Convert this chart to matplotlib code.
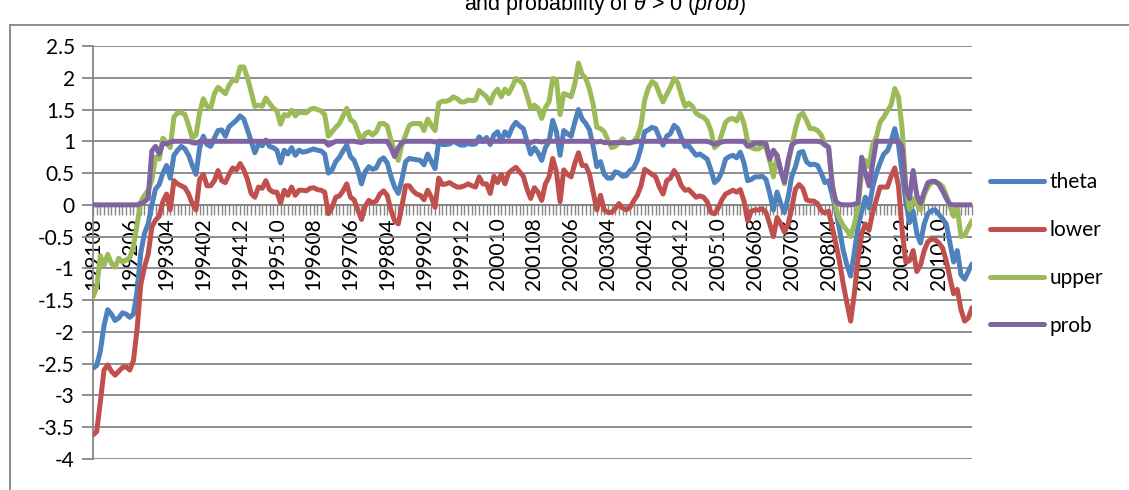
import matplotlib
matplotlib.use("Agg")
import matplotlib.pyplot as plt
from matplotlib.lines import Line2D
import pandas as pd

# Monthly categories, 1991-08 .. 2011-07
months = pd.period_range("1991-08", periods=240, freq="M").strftime("%Y%m").tolist()

theta = [
    -2.57, -2.53, -2.3, -1.9, -1.65, -1.72, -1.82, -1.78, -1.7, -1.72,
    -1.77, -1.72, -1.35, -0.75, -0.45, -0.3, 0.0, 0.25, 0.32, 0.5,
    0.62, 0.42, 0.78, 0.86, 0.92, 0.88, 0.78, 0.62, 0.48, 0.9,
    1.08, 0.95, 0.92, 1.05, 1.17, 1.18, 1.08, 1.23, 1.28, 1.33,
    1.4, 1.35, 1.18, 1.0, 0.82, 0.96, 0.93, 1.02, 0.92, 0.9,
    0.86, 0.66, 0.86, 0.8, 0.9, 0.78, 0.86, 0.83, 0.84, 0.86,
    0.88, 0.86, 0.85, 0.8, 0.5, 0.55, 0.68, 0.75, 0.85, 0.94,
    0.76, 0.7, 0.55, 0.33, 0.52, 0.6, 0.56, 0.58, 0.7, 0.74,
    0.66, 0.45, 0.28, 0.18, 0.4, 0.68, 0.73, 0.72, 0.71, 0.7,
    0.63, 0.8, 0.68, 0.57, 1.0, 0.95, 0.95, 0.96, 1.0, 0.97,
    0.94, 0.94, 0.97, 0.95, 0.96, 1.07, 1.0, 1.06, 0.95, 1.1,
    1.15, 1.0, 1.15, 1.08, 1.22, 1.3, 1.24, 1.2, 1.0, 0.8,
    0.9, 0.82, 0.7, 0.9, 1.0, 1.33, 1.15, 0.78, 1.17, 1.12,
    1.08, 1.3, 1.5, 1.35, 1.28, 1.18, 0.92, 0.6, 0.68, 0.48,
    0.42, 0.42, 0.52, 0.5, 0.45, 0.46, 0.54, 0.58, 0.7, 0.9,
    1.15, 1.18, 1.22, 1.2, 1.06, 0.94, 1.08, 1.12, 1.25, 1.2,
    1.05, 0.92, 0.93, 0.85, 0.78, 0.8, 0.76, 0.72, 0.55, 0.35,
    0.4, 0.52, 0.72, 0.76, 0.78, 0.74, 0.83, 0.66, 0.38, 0.4,
    0.44, 0.44, 0.45, 0.4, 0.18, -0.08, 0.2, 0.02, -0.12, 0.12,
    0.45, 0.6, 0.82, 0.84, 0.68, 0.63, 0.64, 0.62, 0.5, 0.35,
    0.38, 0.15, -0.08, -0.4, -0.72, -0.95, -1.12, -0.75, -0.35, -0.1,
    0.12, -0.05, 0.28, 0.5, 0.66, 0.8, 0.85, 1.0, 1.2, 0.95,
    0.5, 0.05, -0.28, -0.1, -0.45, -0.6, -0.3, -0.14, -0.09, -0.08,
    -0.15, -0.22, -0.3, -0.6, -0.9, -0.72, -1.1, -1.17, -1.05, -0.93,
]

lower = [
    -3.62, -3.57, -3.1, -2.6, -2.52, -2.62, -2.68, -2.62, -2.56, -2.55,
    -2.6, -2.45, -1.95, -1.25, -0.98, -0.78, -0.35, -0.24, -0.18, 0.05,
    0.17, -0.08, 0.38, 0.33, 0.3, 0.27, 0.17, 0.02, -0.08, 0.4,
    0.48, 0.3, 0.3, 0.38, 0.54, 0.38, 0.35, 0.48, 0.58, 0.55,
    0.65, 0.55, 0.4, 0.18, 0.12, 0.28, 0.26, 0.38, 0.24, 0.2,
    0.2, 0.03, 0.23, 0.15, 0.28, 0.15, 0.23, 0.23, 0.22, 0.26,
    0.27, 0.24, 0.23, 0.2, -0.14, -0.04, 0.12, 0.14, 0.22, 0.33,
    0.12, 0.08, -0.08, -0.23, -0.02, 0.07, 0.03, 0.06, 0.17, 0.22,
    0.15, -0.08, -0.25, -0.3, -0.02, 0.3, 0.3, 0.22, 0.17, 0.15,
    0.08, 0.23, 0.12, -0.04, 0.42, 0.32, 0.33, 0.35, 0.31, 0.28,
    0.28, 0.3, 0.33, 0.3, 0.28, 0.44, 0.33, 0.33, 0.18, 0.45,
    0.35, 0.48, 0.33, 0.5, 0.55, 0.59, 0.52, 0.45, 0.25, 0.1,
    0.27, 0.2, 0.07, 0.33, 0.44, 0.73, 0.52, 0.05, 0.55, 0.48,
    0.44, 0.65, 0.82, 0.62, 0.62, 0.48, 0.2, -0.08, 0.15, -0.08,
    -0.12, -0.12, -0.06, 0.02, -0.05, -0.08, -0.04, 0.06, 0.15, 0.3,
    0.56, 0.52, 0.48, 0.44, 0.28, 0.17, 0.38, 0.42, 0.54, 0.45,
    0.3, 0.23, 0.24, 0.18, 0.12, 0.14, 0.12, 0.05, -0.12, -0.14,
    -0.05, 0.08, 0.17, 0.2, 0.23, 0.2, 0.24, 0.06, -0.25, -0.1,
    -0.08, -0.08, -0.06, -0.12, -0.3, -0.5, -0.2, -0.3, -0.43, -0.3,
    -0.05, 0.25, 0.32, 0.26, 0.08, 0.06, 0.06, 0.02, -0.09, -0.13,
    -0.1, -0.35, -0.62, -0.9, -1.25, -1.55, -1.83, -1.4, -0.85, -0.46,
    -0.3, -0.4, -0.12, 0.08, 0.28, 0.28, 0.28, 0.45, 0.58, 0.3,
    -0.4, -0.9, -0.88, -0.72, -1.05, -0.95, -0.72, -0.58, -0.54, -0.55,
    -0.6, -0.68, -0.88, -1.15, -1.4, -1.33, -1.65, -1.83, -1.78, -1.62,
]

upper = [
    -1.45, -1.3, -0.8, -0.95, -0.78, -0.92, -0.98, -0.84, -0.9, -0.87,
    -0.83, -0.65, -0.3, 0.05, 0.15, 0.23, 0.38, 0.75, 0.72, 1.05,
    0.98, 0.9, 1.38, 1.45, 1.45, 1.42, 1.25, 1.05, 1.1, 1.45,
    1.67, 1.55, 1.52, 1.75, 1.85, 1.8, 1.75, 1.88, 1.97, 1.95,
    2.17, 2.17, 2.0, 1.78, 1.55, 1.57, 1.55, 1.68, 1.6, 1.52,
    1.48, 1.27, 1.42, 1.4, 1.49, 1.4, 1.46, 1.45, 1.45, 1.5,
    1.52, 1.5, 1.48, 1.42, 1.08, 1.15, 1.22, 1.28, 1.4, 1.52,
    1.34, 1.3, 1.15, 1.0, 1.12, 1.15, 1.1, 1.15, 1.28, 1.28,
    1.24, 1.02, 0.85, 0.7, 0.95, 1.1, 1.25, 1.28, 1.28, 1.28,
    1.17, 1.35, 1.25, 1.17, 1.6, 1.63, 1.63, 1.65, 1.7, 1.67,
    1.62, 1.62, 1.65, 1.64, 1.65, 1.8, 1.75, 1.7, 1.6, 1.75,
    1.82, 1.7, 1.82, 1.75, 1.86, 1.99, 1.95, 1.9, 1.72, 1.52,
    1.57, 1.52, 1.36, 1.53, 1.62, 1.99, 1.97, 1.42, 1.75, 1.73,
    1.7, 1.9, 2.23, 2.05, 1.99, 1.82, 1.58, 1.22, 1.2, 1.15,
    1.02, 0.9, 0.92, 0.98, 1.04, 0.97, 0.97, 1.0, 1.07, 1.25,
    1.65, 1.84, 1.94, 1.9, 1.75, 1.62, 1.74, 1.85, 1.99, 1.92,
    1.72, 1.55, 1.6, 1.55, 1.44, 1.4, 1.38, 1.32, 1.17, 0.9,
    0.95, 1.12, 1.3, 1.35, 1.36, 1.32, 1.44, 1.28, 1.0, 0.9,
    0.88, 0.88, 0.93, 0.9, 0.7, 0.44, 0.78, 0.54, 0.33, 0.65,
    0.92, 1.2, 1.4, 1.44, 1.33, 1.2, 1.2, 1.17, 1.1, 0.96,
    0.9, 0.35, -0.05, -0.22, -0.33, -0.4, -0.5, -0.3, -0.04, 0.5,
    0.7, 0.6, 0.95, 1.07, 1.3, 1.38, 1.48, 1.57, 1.83, 1.7,
    1.2, 0.3, -0.07, 0.1, 0.0, -0.08, 0.16, 0.28, 0.35, 0.36,
    0.34, 0.29, 0.15, -0.02, -0.18, -0.05, -0.5, -0.48, -0.36, -0.25,
]

prob = [
    0, 0, 0, 0, 0, 0, 0, 0, 0, 0,
    0, 0, 0, 0.02, 0.05, 0.1, 0.85, 0.92, 0.8, 0.97,
    0.96, 0.99, 1, 1, 1, 1, 1, 0.98, 0.97, 1,
    1, 1, 1, 1, 1, 1, 1, 1, 1, 1,
    1, 1, 1, 1, 1, 1, 1, 1, 1, 1,
    1, 1, 1, 1, 1, 1, 1, 1, 1, 1,
    1, 1, 1, 1, 0.94, 0.97, 1, 1, 1, 1,
    1, 1, 0.99, 0.98, 1, 1, 1, 1, 1, 1,
    1, 0.9, 0.76, 0.9, 0.98, 1, 1, 1, 1, 1,
    1, 1, 1, 0.99, 1, 1, 1, 1, 1, 1,
    1, 1, 1, 1, 1, 1, 1, 1, 1, 1,
    1, 1, 1, 1, 1, 1, 1, 1, 0.99, 0.98,
    1, 1, 0.99, 1, 1, 1, 1, 0.99, 1, 1,
    1, 1, 1, 1, 1, 1, 1, 0.99, 1, 0.98,
    0.98, 0.97, 0.98, 0.98, 0.98, 0.98, 0.98, 0.99, 1, 1,
    1, 1, 1, 1, 1, 1, 1, 1, 1, 1,
    1, 1, 1, 1, 1, 1, 1, 1, 0.98, 0.95,
    0.97, 0.99, 1, 1, 1, 1, 1, 1, 0.92, 0.94,
    0.97, 0.97, 0.97, 0.96, 0.72, 0.86, 0.78, 0.54, 0.36, 0.7,
    0.94, 0.99, 1, 1, 1, 1, 1, 1, 0.99, 0.94,
    0.91, 0.3, 0.05, 0.01, 0.0, 0.0, 0.0, 0.01, 0.03, 0.75,
    0.5, 0.3, 0.65, 1, 1, 1, 1, 1, 1, 1,
    0.91, 0.23, 0.1, 0.54, 0.15, 0.02, 0.2, 0.35, 0.37, 0.37,
    0.32, 0.22, 0.1, 0.01, 0, 0, 0, 0, 0, 0,
]

series = [("theta", theta, "#4F81BD"),
          ("lower", lower, "#C0504D"),
          ("upper", upper, "#9BBB59"),
          ("prob", prob, "#8064A2")]

plt.rcParams["font.family"] = ["Lato", "DejaVu Sans"]
plt.rcParams["mathtext.fontset"] = "custom"
plt.rcParams["mathtext.rm"] = "Liberation Sans"
plt.rcParams["mathtext.it"] = "Liberation Sans:italic"

W, H = 1129, 490
fig = plt.figure(figsize=(W / 100, H / 100), dpi=100)
x0, x1, ytop, ybot = 93, 972, 46, 459
ax = fig.add_axes([x0 / W, 1 - ybot / H, (x1 - x0) / W, (ybot - ytop) / H])

grid_c = "#868686"
xs = list(range(len(months)))
for name, vals, col in series:
    ax.plot(xs, vals, color=col, lw=3.6, label=name, zorder=3,
            solid_joinstyle="round", solid_capstyle="round")

ax.set_xlim(0, len(months) - 1)
ax.set_ylim(-4, 2.5)
yt = [-4 + 0.5 * k for k in range(14)]
ax.set_yticks(yt)
ax.set_yticklabels([f"{v:g}" for v in yt], fontsize=15)
ax.yaxis.grid(True, color=grid_c, lw=1.3)
ax.set_axisbelow(True)
ax.tick_params(axis="y", length=8, width=1.3, color=grid_c, pad=5)

# category axis crossing at zero with a tick for every month
ax.spines["bottom"].set_position(("data", 0))
ax.spines["bottom"].set_color(grid_c)
ax.spines["bottom"].set_linewidth(1.3)
ax.spines["left"].set_color(grid_c)
ax.spines["left"].set_linewidth(1.3)
ax.spines["top"].set_visible(False)
ax.spines["right"].set_visible(False)
ax.set_xticks(xs, minor=True)
ax.set_xticks(xs[::10])
ax.set_xticklabels(months[::10], rotation=90, fontsize=15)
ax.tick_params(axis="x", which="both", length=7, width=1.0, color=grid_c, pad=2)

ax.legend(loc="center left", bbox_to_anchor=(990 / W, 1 - 254 / H),
          bbox_transform=fig.transFigure, frameon=False, fontsize=15,
          handlelength=2.6, handletextpad=0.25, labelspacing=1.33,
          borderaxespad=0, borderpad=0)

fig.text(605 / W, 1 - 10 / H, r"and probability of $\theta$ > 0 ($prob$)",
         ha="center", va="baseline", fontsize=15.5, family="Liberation Sans")

# outer chart frame
fig.add_artist(Line2D([10 / W, 10 / W], [0, 1 - 25 / H], transform=fig.transFigure,
                      color=grid_c, lw=1.3))
fig.add_artist(Line2D([10 / W, 1], [1 - 25 / H, 1 - 25 / H], transform=fig.transFigure,
                      color=grid_c, lw=1.3))

fig.savefig("out.png", dpi=100)
